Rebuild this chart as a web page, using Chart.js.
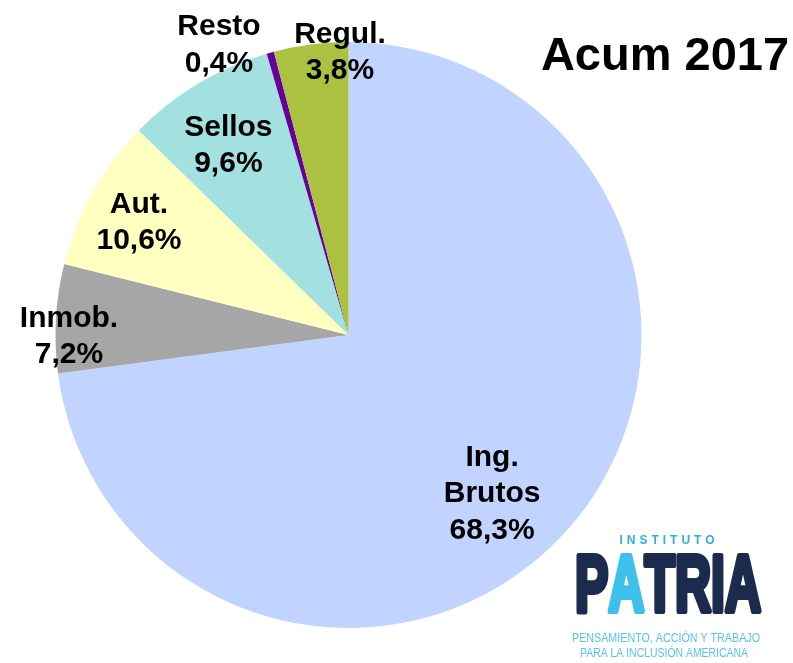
<!DOCTYPE html>
<html>
<head>
<meta charset="utf-8">
<script src="https://cdn.jsdelivr.net/npm/chart.js@4.4.0/dist/chart.umd.min.js"></script>
<style>
  html, body { margin: 0; padding: 0; background: #ffffff; }
  #grafica { display: block; }
</style>
</head>
<body>
<canvas id="grafica" width="793" height="663"></canvas>
<script>
// Datos del gráfico (orden horario desde las 12)
const categorias = ["Ing. Brutos", "Inmob.", "Aut.", "Sellos", "Resto", "Regul."];
// tamaño de cada porción
const valores = [72.9, 6.0, 8.4, 8.2, 0.4, 4.1];
// porcentajes impresos en las etiquetas
const porcentajes = ["68,3%", "7,2%", "10,6%", "9,6%", "0,4%", "3,8%"];
const lineasEtiqueta = [["Ing.", "Brutos"], ["Inmob."], ["Aut."], ["Sellos"], ["Resto"], ["Regul."]];
const colores = ["#C0D4FF", "#A6A6A6", "#FFFFC0", "#A3E0E0", "#660099", "#AAC23F"];
const titulo = "Acum 2017";

// posición de cada etiqueta, relativa al centro (en fracciones del radio)
const posEtiquetas = [
  [0.490, 0.570],
  [-0.954, 0.034],
  [-0.715, -0.355],
  [-0.410, -0.618],
  [-0.442, -0.961],
  [-0.029, -0.935],
];

const FUENTE = "'Liberation Sans', Arial, sans-serif";

// Etiquetas de porciones
const etiquetasPlugin = {
  id: "etiquetas",
  afterDatasetsDraw(chart) {
    const ctx = chart.ctx;
    const arcos = chart.getDatasetMeta(0).data;
    const cx = arcos[0].x;
    const cy = arcos[0].y;
    const r = arcos[0].outerRadius;
    ctx.save();
    ctx.fillStyle = "#000000";
    ctx.font = "bold 30px " + FUENTE;
    ctx.textAlign = "center";
    ctx.textBaseline = "alphabetic";
    categorias.forEach((c, i) => {
      const lineas = lineasEtiqueta[i].concat([porcentajes[i]]);
      const x = cx + posEtiquetas[i][0] * r;
      const y = cy + posEtiquetas[i][1] * r;
      const paso = 36.5;
      const inicio = y - (paso * (lineas.length - 1)) / 2;
      lineas.forEach((l, j) => {
        ctx.fillText(l, x, inicio + j * paso);
      });
    });
    ctx.restore();
  },
};

// Título y logo
const decoracionPlugin = {
  id: "decoracion",
  afterDraw(chart) {
    const ctx = chart.ctx;
    ctx.save();
    ctx.fillStyle = "#000000";
    ctx.font = "bold 47px " + FUENTE;
    ctx.textAlign = "center";
    ctx.textBaseline = "alphabetic";
    ctx.fillText(titulo, 665, 70);

    // logo Instituto Patria
    const celeste = "#3EC0EC";
    const marino = "#1B2B4E";
    ctx.fillStyle = "#2FAEE3";
    ctx.font = "bold 12px " + FUENTE;
    ctx.letterSpacing = "4px";
    ctx.fillText("INSTITUTO", 669, 544);
    ctx.letterSpacing = "0px";

    // PATRIA, comprimido y engrosado
    ctx.textAlign = "left";
    ctx.font = "bold 80px " + FUENTE;
    ctx.lineJoin = "round";
    ctx.lineWidth = 6;
    const partes = [["P", marino], ["A", celeste], ["TRIA", marino]];
    let ancho = 0;
    partes.forEach((p) => { ancho += ctx.measureText(p[0]).width; });
    const sx = 186 / ancho;
    ctx.save();
    ctx.translate(575, 611);
    ctx.scale(sx, 1);
    let px = 0;
    partes.forEach((p) => {
      ctx.fillStyle = p[1];
      ctx.strokeStyle = p[1];
      ctx.fillText(p[0], px, 0);
      ctx.strokeText(p[0], px, 0);
      px += ctx.measureText(p[0]).width;
    });
    ctx.restore();

    // lema
    ctx.fillStyle = "#55C3EA";
    ctx.font = "12.5px " + FUENTE;
    const lema = [["PENSAMIENTO, ACCIÓN Y TRABAJO", 572, 642, 188], ["PARA LA INCLUSIÓN AMERICANA", 580, 657, 168]];
    lema.forEach((l) => {
      const w = ctx.measureText(l[0]).width;
      ctx.save();
      ctx.translate(l[1], l[2]);
      ctx.scale(l[3] / w, 1);
      ctx.fillText(l[0], 0, 0);
      ctx.restore();
    });
    ctx.restore();
  },
};

const canvas = document.getElementById("grafica");
const ctx = canvas.getContext("2d");

window.miGrafica = new Chart(ctx, {
  type: "pie",
  data: {
    labels: categorias,
    datasets: [
      {
        data: valores,
        backgroundColor: colores,
        borderWidth: 0,
        hoverOffset: 0,
      },
    ],
  },
  options: {
    responsive: false,
    animation: false,
    events: [],
    layout: {
      padding: { left: 55.5, right: 151.5, top: 42, bottom: 35 },
    },
    plugins: {
      legend: { display: false },
      tooltip: { enabled: false },
      title: { display: false },
    },
  },
  plugins: [etiquetasPlugin, decoracionPlugin],
});
</script>
</body>
</html>
